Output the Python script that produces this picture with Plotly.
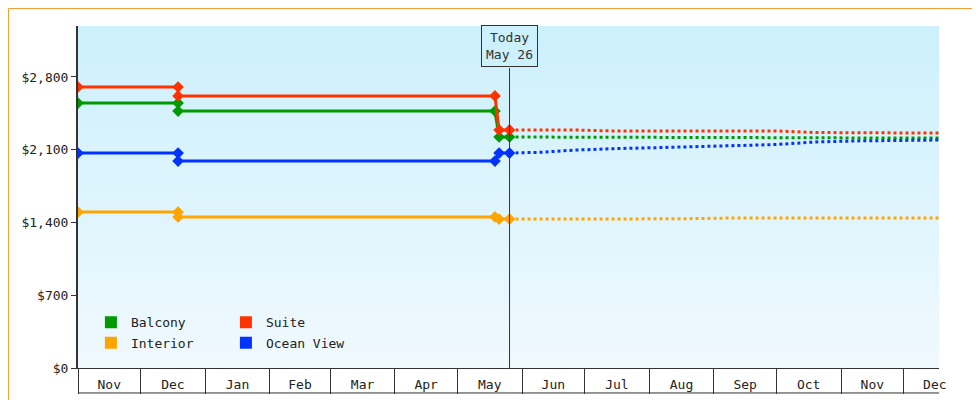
import plotly.graph_objects as go

# observed history (duplicate dates make the steps)
hist_dates = ['2023-11-01', '2023-12-19', '2023-12-19', '2024-05-19', '2024-05-21', '2024-05-26']
balcony_hist = [2549, 2549, 2472, 2472, 2222, 2222]
suite_hist = [2703, 2703, 2617, 2617, 2290, 2290]
ocean_hist = [2068, 2068, 1991, 1991, 2068, 2068]
interior_hist = [1500, 1500, 1453, 1453, 1433, 1433]

# forecast
fc_dates = ['2024-05-26', '2024-06-10', '2024-06-25', '2024-07-15', '2024-08-15',
            '2024-09-10', '2024-10-01', '2024-10-20', '2024-11-10', '2024-12-18']
balcony_fc = [2222, 2222, 2222, 2222, 2222, 2215, 2215, 2215, 2213, 2213]
suite_fc = [2290, 2290, 2290, 2280, 2280, 2280, 2280, 2265, 2262, 2260]
ocean_fc = [2068, 2075, 2095, 2110, 2125, 2140, 2150, 2175, 2185, 2193]
interior_fc = [1433, 1433, 1433, 1433, 1435, 1443, 1443, 1443, 1443, 1443]

names = ['Balcony', 'Suite', 'Interior', 'Ocean View']
colors = ['#009900', '#ff3300', '#ffa500', '#0033ff']
hist = [balcony_hist, suite_hist, interior_hist, ocean_hist]
fc = [balcony_fc, suite_fc, interior_fc, ocean_fc]

yticks = [0, 700, 1400, 2100, 2800]
xrange_ = ['2023-11-01', '2024-12-18']
ymax = 3290
today = '2024-05-26'
font = 'DejaVu Sans Mono'

fig = go.Figure()
# gradient background filling the plot area
fig.add_trace(go.Scatter(x=[xrange_[0], xrange_[1], xrange_[1], xrange_[0], xrange_[0]],
                         y=[0, 0, ymax, ymax, 0],
                         mode='none', fill='toself', hoverinfo='skip', showlegend=False,
                         fillgradient=dict(type='vertical',
                                           colorscale=[[0, '#f0f9fe'], [1, '#ccf0fc']])))

for n, c, h, f in zip(names, colors, hist, fc):
    fig.add_trace(go.Scatter(x=hist_dates, y=h, mode='lines+markers', showlegend=False,
                             line=dict(color=c, width=3),
                             marker=dict(symbol='diamond', size=9, color=c)))
    fig.add_trace(go.Scatter(x=fc_dates, y=f, mode='lines', showlegend=False,
                             line=dict(color=c, width=3, dash='dot')))

for i, (n, c) in enumerate(zip(names, colors)):
    fig.add_trace(go.Scatter(x=[None], y=[None], mode='markers', name=n,
                             marker=dict(symbol='square', size=12, color=c),
                             legend='legend' if i < 2 else 'legend2'))

fig.add_shape(type='line', xref='x', yref='paper', x0=today, x1=today, y0=0, y1=0.877,
              line=dict(color='#333333', width=1))
fig.add_annotation(x=today, xref='x', yref='paper', y=0.88, yanchor='bottom',
                   text='Today<br>May 26', showarrow=False, bordercolor='#333333',
                   borderwidth=1, borderpad=4, bgcolor='#ccf0fc',
                   font=dict(family=font, size=13, color='#333333'))
# line under month boxes
fig.add_shape(type='line', xref='paper', yref='paper', x0=0, x1=1, y0=-0.073, y1=-0.073,
              line=dict(color='#333333', width=1))
# outer orange border
fig.add_shape(type='rect', xref='paper', yref='paper', x0=-69.5 / 861, x1=1 + 48.5 / 861,
              y0=-39.5 / 342, y1=1 + 17.5 / 342, line=dict(color='#f0a030', width=1))

fig.update_layout(
    width=980, height=400, margin=dict(l=70, r=49, t=18, b=40),
    paper_bgcolor='white', plot_bgcolor='white',
    font=dict(family=font, size=13, color='#222222'),
    xaxis=dict(type='date', range=xrange_, dtick='M1',
               tick0='2023-11-01', tickformat='%b', ticklabelmode='period',
               ticks='outside', ticklen=25, tickcolor='#333333', showgrid=False,
               showline=True, linecolor='#333333', linewidth=1, ticklabelstandoff=-21,
               zeroline=False),
    yaxis=dict(range=[0, ymax], tickvals=yticks,
               ticktext=['$' + format(v, ',') for v in yticks], ticks='outside',
               ticklen=5, tickcolor='#333333', showgrid=False, showline=True,
               linecolor='#333333', linewidth=2, zeroline=False),
    legend=dict(orientation='h', x=0.015, y=0.09, xanchor='left', yanchor='bottom',
                bgcolor='rgba(0,0,0,0)', entrywidth=90, itemwidth=30,
                tracegroupgap=0, font=dict(family=font, size=13)),
    legend2=dict(orientation='h', x=0.015, y=0.03, xanchor='left', yanchor='bottom',
                 bgcolor='rgba(0,0,0,0)', entrywidth=90, itemwidth=30,
                 tracegroupgap=0, font=dict(family=font, size=13)),
)
fig.write_html('out.html')
